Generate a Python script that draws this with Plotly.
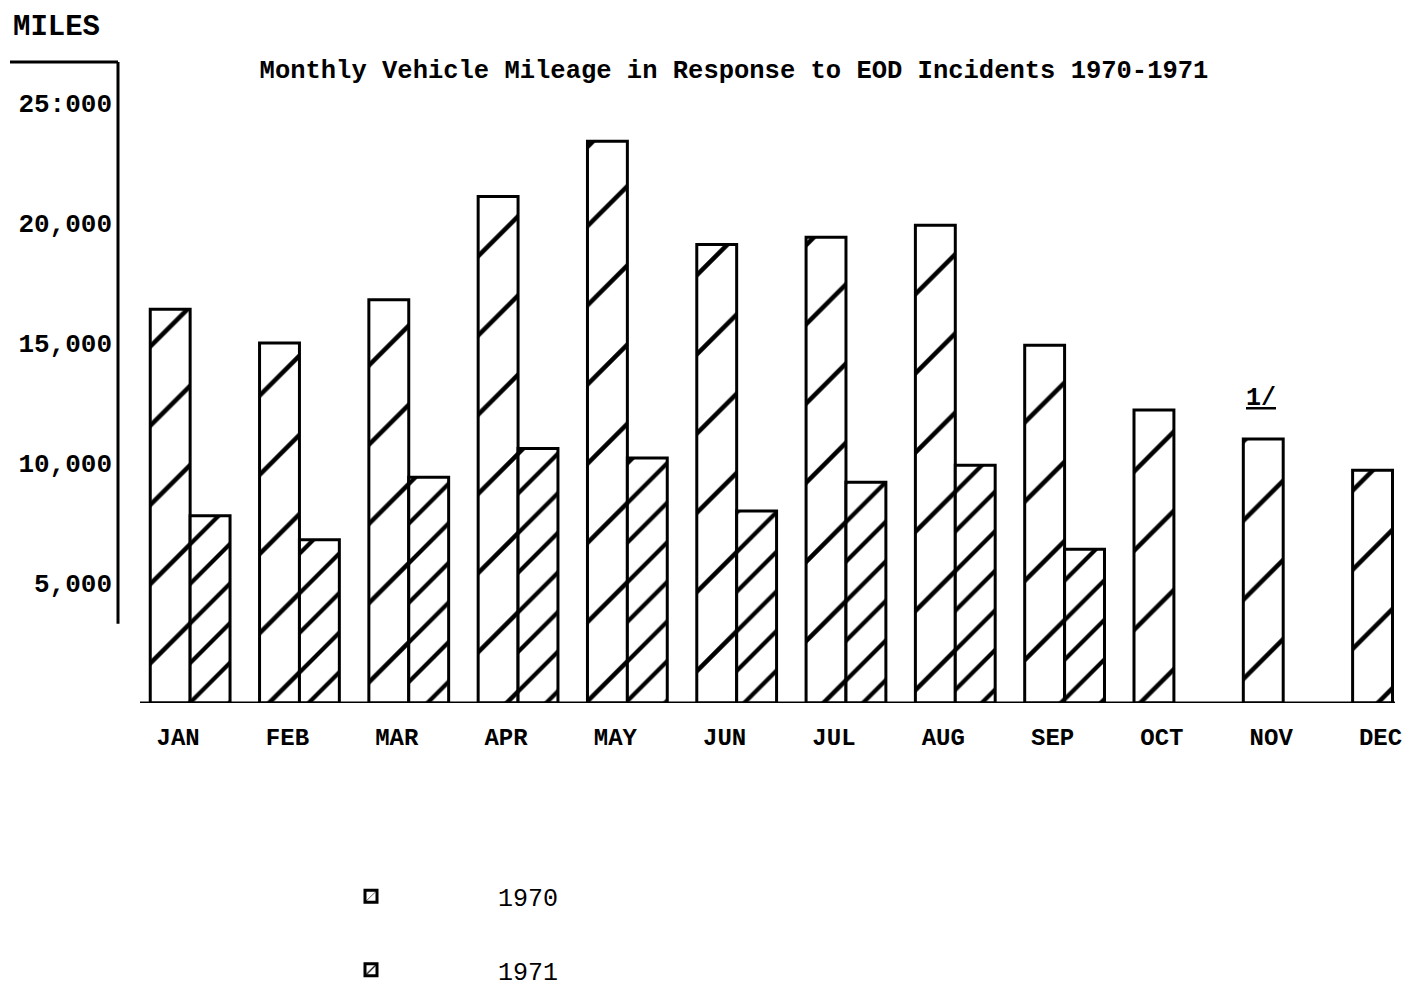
import plotly.graph_objects as go

months = ["JAN", "FEB", "MAR", "APR", "MAY", "JUN", "JUL", "AUG", "SEP", "OCT", "NOV", "DEC"]
miles_1970 = [16400, 15000, 16800, 21100, 23400, 19100, 19400, 19900, 14900, 12200, 11000, 9700]
miles_1971 = [7800, 6800, 9400, 10600, 10200, 8000, 9200, 9900, 6400, None, None, None]
y_ticks = [5000, 10000, 15000, 20000, 25000]
y_tick_labels = ["5,000", "10,000", "15,000", "20,000", "25:000"]

FONT = "Liberation Mono"
# the page body adds an 8px offset; layout below is in figure pixels
W, H = 1409, 995
L, R, T, B = 110, 7, 54, 300
PW = W - L - R
PH = H - T - B

fig = go.Figure()
fig.add_trace(go.Bar(
    name="1970", x=months, y=miles_1970,
    marker=dict(color="white", line=dict(color="black", width=3),
                pattern=dict(shape="/", fgcolor="black", bgcolor="white", fgopacity=1,
                             size=56, solidity=0.08)),
    legendgroup="a",
))
fig.add_trace(go.Bar(
    name="1971", x=months, y=miles_1971,
    marker=dict(color="white", line=dict(color="black", width=3),
                pattern=dict(shape="/", fgcolor="black", bgcolor="white", fgopacity=1,
                             size=28, solidity=0.15)),
    legendgroup="b",
))

fig.update_layout(
    width=W, height=H,
    margin=dict(l=L, r=R, t=T, b=B, autoexpand=False),
    paper_bgcolor="white", plot_bgcolor="white",
    barmode="group", bargap=0.27, bargroupgap=0,
    font=dict(family=FONT, color="black", size=24),
    title=dict(text="Monthly Vehicle Mileage in Response to EOD Incidents 1970-1971",
               x=(726 - L) / PW, xanchor="center", xref="paper", y=1 - 61 / H, yanchor="middle",
               font=dict(family=FONT, size=25.5, weight="bold", color="black")),
    showlegend=True,
    legend=dict(x=(236 - L) / PW, xanchor="left", y=-0.266, yanchor="top",
                font=dict(family=FONT, size=25, color="black"), itemwidth=244,
                tracegroupgap=38, bgcolor="rgba(0,0,0,0)"),
    xaxis=dict(range=[-0.66, 11.16], showgrid=False, showline=False, zeroline=False,
               ticks="", ticklabelstandoff=17, ticklabelshift=-12, automargin=False,
               tickfont=dict(family=FONT, size=24, weight="bold", color="black")),
    yaxis=dict(range=[0, 26700], showgrid=False, showline=False, zeroline=False,
               tickmode="array", tickvals=y_ticks, ticktext=y_tick_labels,
               ticks="", ticklabelstandoff=5, automargin=False,
               tickfont=dict(family=FONT, size=26, weight="bold", color="black")),
)

# axis lines (hand-drawn style of the original)
fig.add_shape(type="line", xref="paper", yref="y", x0=0, x1=0, y0=3300, y1=26700,
              line=dict(color="black", width=3))
fig.add_shape(type="line", xref="paper", yref="paper", x0=(2 - L) / PW, x1=0, y0=1, y1=1,
              line=dict(color="black", width=3))
fig.add_shape(type="line", xref="paper", yref="y", x0=(132 - L) / PW, x1=(1387 - L) / PW,
              y0=0, y1=0, line=dict(color="black", width=3))

fig.add_annotation(text="MILES", xref="paper", yref="paper", x=(3 - L) / PW, y=1 + (T - 19) / PH,
                   xanchor="left", yanchor="middle", showarrow=False,
                   font=dict(family=FONT, size=29, weight="bold", color="black"))
fig.add_annotation(text="<u>1/</u>", x="NOV", y=miles_1970[10], xshift=-22, yshift=40,
                   showarrow=False, font=dict(family=FONT, size=25, weight="bold", color="black"))

fig.write_html("out.html")
